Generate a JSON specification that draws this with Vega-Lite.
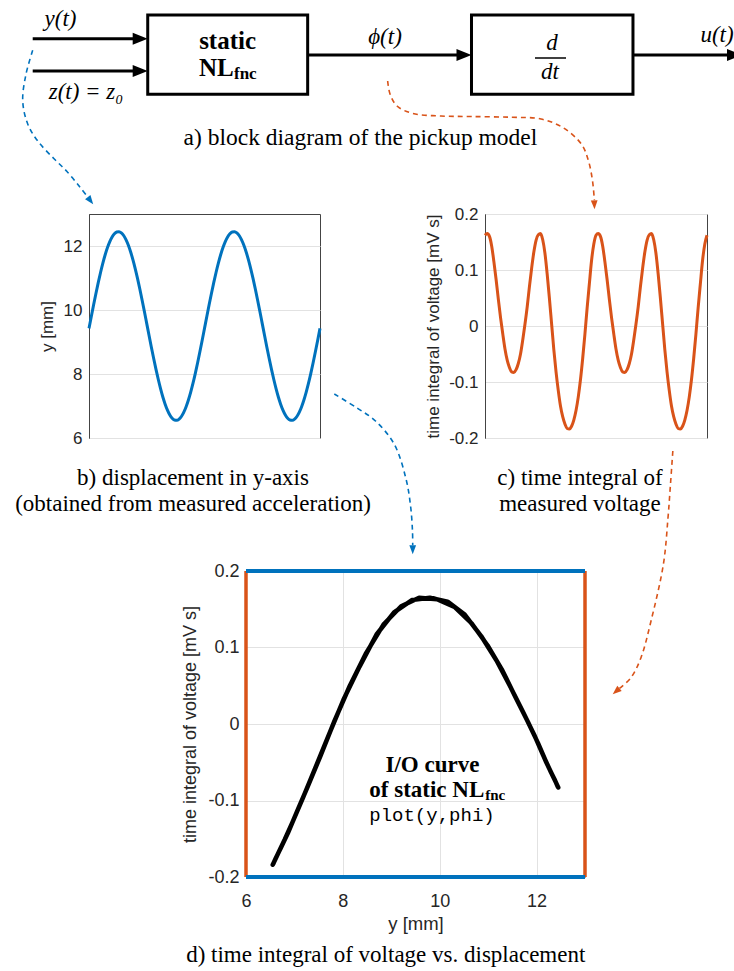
{
  "$schema": "https://vega.github.io/schema/vega-lite/v6.json",
  "padding": 0,
  "background": "white",
  "spacing": 133,
  "bounds": "flush",
  "config": {
    "view": {"stroke": "#444", "strokeWidth": 1},
    "axis": {
      "labelFont": "Liberation Sans", "titleFont": "Liberation Sans",
      "labelColor": "#262626", "titleColor": "#262626", "titleFontWeight": "normal",
      "domainColor": "#444", "gridColor": "#e2e2e2", "gridWidth": 1,
      "ticks": false, "labelPadding": 7
    },
    "title": {"font": "Liberation Serif", "fontSize": 23, "fontWeight": "normal", "color": "black"}
  },
  "datasets": {
    "ts": [
      {"t":0.00,"y":9.426,"phi":0.162},{"t":0.01,"y":9.796,"phi":0.165},{"t":0.02,"y":10.162,"phi":0.160},{"t":0.03,"y":10.517,"phi":0.143},
      {"t":0.04,"y":10.856,"phi":0.115},{"t":0.05,"y":11.173,"phi":0.083},{"t":0.06,"y":11.464,"phi":0.048},{"t":0.07,"y":11.726,"phi":0.015},
      {"t":0.08,"y":11.950,"phi":-0.014},{"t":0.09,"y":12.137,"phi":-0.041},{"t":0.10,"y":12.282,"phi":-0.061},{"t":0.11,"y":12.383,"phi":-0.074},
      {"t":0.12,"y":12.439,"phi":-0.082},{"t":0.13,"y":12.448,"phi":-0.083},{"t":0.14,"y":12.411,"phi":-0.078},{"t":0.15,"y":12.328,"phi":-0.067},
      {"t":0.16,"y":12.200,"phi":-0.050},{"t":0.17,"y":12.030,"phi":-0.025},{"t":0.18,"y":11.820,"phi":0.003},{"t":0.19,"y":11.573,"phi":0.034},
      {"t":0.20,"y":11.294,"phi":0.070},{"t":0.21,"y":10.986,"phi":0.103},{"t":0.22,"y":10.655,"phi":0.132},{"t":0.23,"y":10.305,"phi":0.153},
      {"t":0.24,"y":9.943,"phi":0.163},{"t":0.25,"y":9.574,"phi":0.165},{"t":0.26,"y":9.204,"phi":0.154},{"t":0.27,"y":8.838,"phi":0.130},
      {"t":0.28,"y":8.483,"phi":0.093},{"t":0.29,"y":8.144,"phi":0.050},{"t":0.30,"y":7.827,"phi":0.004},{"t":0.31,"y":7.536,"phi":-0.042},
      {"t":0.32,"y":7.274,"phi":-0.082},{"t":0.33,"y":7.050,"phi":-0.115},{"t":0.34,"y":6.863,"phi":-0.143},{"t":0.35,"y":6.718,"phi":-0.162},
      {"t":0.36,"y":6.617,"phi":-0.175},{"t":0.37,"y":6.561,"phi":-0.183},{"t":0.38,"y":6.552,"phi":-0.184},{"t":0.39,"y":6.589,"phi":-0.179},
      {"t":0.40,"y":6.672,"phi":-0.168},{"t":0.41,"y":6.800,"phi":-0.151},{"t":0.42,"y":6.970,"phi":-0.127},{"t":0.43,"y":7.180,"phi":-0.096},
      {"t":0.44,"y":7.427,"phi":-0.058},{"t":0.45,"y":7.706,"phi":-0.015},{"t":0.46,"y":8.014,"phi":0.032},{"t":0.47,"y":8.345,"phi":0.075},
      {"t":0.48,"y":8.695,"phi":0.117},{"t":0.49,"y":9.057,"phi":0.146},{"t":0.50,"y":9.426,"phi":0.162},
      {"t":0.51,"y":9.796,"phi":0.165},{"t":0.52,"y":10.162,"phi":0.160},{"t":0.53,"y":10.517,"phi":0.143},
      {"t":0.54,"y":10.856,"phi":0.115},{"t":0.55,"y":11.173,"phi":0.083},{"t":0.56,"y":11.464,"phi":0.048},{"t":0.57,"y":11.726,"phi":0.015},
      {"t":0.58,"y":11.950,"phi":-0.014},{"t":0.59,"y":12.137,"phi":-0.041},{"t":0.60,"y":12.282,"phi":-0.061},{"t":0.61,"y":12.383,"phi":-0.074},
      {"t":0.62,"y":12.439,"phi":-0.082},{"t":0.63,"y":12.448,"phi":-0.083},{"t":0.64,"y":12.411,"phi":-0.078},{"t":0.65,"y":12.328,"phi":-0.067},
      {"t":0.66,"y":12.200,"phi":-0.050},{"t":0.67,"y":12.030,"phi":-0.025},{"t":0.68,"y":11.820,"phi":0.003},{"t":0.69,"y":11.573,"phi":0.034},
      {"t":0.70,"y":11.294,"phi":0.070},{"t":0.71,"y":10.986,"phi":0.103},{"t":0.72,"y":10.655,"phi":0.132},{"t":0.73,"y":10.305,"phi":0.153},
      {"t":0.74,"y":9.943,"phi":0.163},{"t":0.75,"y":9.574,"phi":0.165},{"t":0.76,"y":9.204,"phi":0.154},{"t":0.77,"y":8.838,"phi":0.130},
      {"t":0.78,"y":8.483,"phi":0.093},{"t":0.79,"y":8.144,"phi":0.050},{"t":0.80,"y":7.827,"phi":0.004},{"t":0.81,"y":7.536,"phi":-0.042},
      {"t":0.82,"y":7.274,"phi":-0.082},{"t":0.83,"y":7.050,"phi":-0.115},{"t":0.84,"y":6.863,"phi":-0.143},{"t":0.85,"y":6.718,"phi":-0.162},
      {"t":0.86,"y":6.617,"phi":-0.175},{"t":0.87,"y":6.561,"phi":-0.183},{"t":0.88,"y":6.552,"phi":-0.184},{"t":0.89,"y":6.589,"phi":-0.179},
      {"t":0.90,"y":6.672,"phi":-0.168},{"t":0.91,"y":6.800,"phi":-0.151},{"t":0.92,"y":6.970,"phi":-0.127},{"t":0.93,"y":7.180,"phi":-0.096},
      {"t":0.94,"y":7.427,"phi":-0.058},{"t":0.95,"y":7.706,"phi":-0.015},{"t":0.96,"y":8.014,"phi":0.032},{"t":0.97,"y":8.345,"phi":0.075},
      {"t":0.98,"y":8.695,"phi":0.117},{"t":0.99,"y":9.057,"phi":0.146},{"t":1.00,"y":9.426,"phi":0.162}
    ]
  },
  "vconcat": [
    {
      "width": 734, "height": 80,
      "view": {"stroke": "white"},
      "encoding": {
        "x": {"field": "x", "type": "quantitative", "scale": {"domain": [0, 100], "nice": false, "zero": false}, "axis": null},
        "y": {"field": "y", "type": "quantitative", "scale": {"domain": [0, 10.9], "reverse": true, "nice": false, "zero": false}, "axis": null}
      },
      "layer": [
        {
          "data": {"values": [
            {"x": 4.32, "y": 6.72, "path": "b1", "i": 0}, {"x": 3.41, "y": 9.95, "path": "b1", "i": 1}, {"x": 2.96, "y": 13.62, "path": "b1", "i": 2},
            {"x": 3.64, "y": 16.76, "path": "b1", "i": 3}, {"x": 5.0, "y": 19.07, "path": "b1", "i": 4}, {"x": 7.26, "y": 21.53, "path": "b1", "i": 5},
            {"x": 8.99, "y": 23.23, "path": "b1", "i": 6}, {"x": 10.69, "y": 25.27, "path": "b1", "i": 7}, {"x": 11.83, "y": 26.72, "path": "b1", "i": 8},
            {"x": 45.41, "y": 53.54, "path": "b2", "i": 0}, {"x": 48.5, "y": 55.45, "path": "b2", "i": 1}, {"x": 51.02, "y": 57.22, "path": "b2", "i": 2},
            {"x": 53.58, "y": 60.4, "path": "b2", "i": 3}, {"x": 55.18, "y": 65.12, "path": "b2", "i": 4}, {"x": 55.8, "y": 68.8, "path": "b2", "i": 5},
            {"x": 56.06, "y": 72.21, "path": "b2", "i": 6}, {"x": 56.09, "y": 74.16, "path": "b2", "i": 7}
          ]},
          "mark": {"type": "line", "color": "#0072BD", "strokeWidth": 1.6, "strokeDash": [5, 4], "interpolate": "catmull-rom"},
          "encoding": {"detail": {"field": "path"}, "order": {"field": "i", "type": "quantitative"}}
        },
        {
          "data": {"values": [
            {"x": 52.68, "y": 10.9, "path": "o1", "i": 0}, {"x": 53.0, "y": 12.67, "path": "o1", "i": 1}, {"x": 53.95, "y": 14.31, "path": "o1", "i": 2},
            {"x": 56.13, "y": 15.33, "path": "o1", "i": 3}, {"x": 59.95, "y": 15.67, "path": "o1", "i": 4}, {"x": 64.03, "y": 15.74, "path": "o1", "i": 5},
            {"x": 69.48, "y": 15.84, "path": "o1", "i": 6}, {"x": 73.57, "y": 16.08, "path": "o1", "i": 7}, {"x": 76.57, "y": 17.26, "path": "o1", "i": 8},
            {"x": 79.09, "y": 19.52, "path": "o1", "i": 9}, {"x": 80.04, "y": 21.8, "path": "o1", "i": 10}, {"x": 80.59, "y": 24.52, "path": "o1", "i": 11},
            {"x": 80.84, "y": 27.15, "path": "o1", "i": 12},
            {"x": 91.53, "y": 61.31, "path": "o2", "i": 0}, {"x": 91.21, "y": 65.84, "path": "o2", "i": 1}, {"x": 90.87, "y": 70.44, "path": "o2", "i": 2},
            {"x": 90.25, "y": 76.7, "path": "o2", "i": 3}, {"x": 88.56, "y": 84.47, "path": "o2", "i": 4}, {"x": 87.19, "y": 89.47, "path": "o2", "i": 5},
            {"x": 85.83, "y": 92.19, "path": "o2", "i": 6}, {"x": 84.26, "y": 93.65, "path": "o2", "i": 7}
          ]},
          "mark": {"type": "line", "color": "#D95319", "strokeWidth": 1.6, "strokeDash": [5, 4], "interpolate": "catmull-rom"},
          "encoding": {"detail": {"field": "path"}, "order": {"field": "i", "type": "quantitative"}}
        },
        {
          "data": {"values": [{"x": 12.19, "y": 27.21, "dir": 53}, {"x": 56.09, "y": 74.77, "dir": 90}]},
          "mark": {"type": "point", "shape": "M1,0L-1,-0.75L-1,0.75Z", "size": 81, "filled": true, "color": "#0072BD", "opacity": 1, "strokeWidth": 0},
          "encoding": {"angle": {"field": "dir", "type": "quantitative", "scale": null}}
        },
        {
          "data": {"values": [{"x": 80.84, "y": 27.77, "dir": 88}, {"x": 83.8, "y": 94.06, "dir": 139}]},
          "mark": {"type": "point", "shape": "M1,0L-1,-0.75L-1,0.75Z", "size": 81, "filled": true, "color": "#D95319", "opacity": 1, "strokeWidth": 0},
          "encoding": {"angle": {"field": "dir", "type": "quantitative", "scale": null}}
        },
        {
          "data": {"values": [
            {"block": "static NL", "x": 19.99, "x2": 41.78, "y": 1.91, "y2": 12.71},
            {"block": "d/dt", "x": 64.1, "x2": 86.1, "y": 1.91, "y2": 12.71}
          ]},
          "mark": {"type": "rect", "filled": false, "color": "black", "strokeWidth": 3},
          "encoding": {"x2": {"field": "x2"}, "y2": {"field": "y2"}}
        },
        {
          "data": {"values": [
            {"signal": "y(t)", "x": 4.32, "x2": 18.2, "y": 5.14},
            {"signal": "z(t)", "x": 4.32, "x2": 18.2, "y": 9.54},
            {"signal": "phi(t)", "x": 41.78, "x2": 62.4, "y": 7.36},
            {"signal": "u(t)", "x": 86.1, "x2": 99.2, "y": 7.36}
          ]},
          "mark": {"type": "rule", "color": "black", "strokeWidth": 3},
          "encoding": {"x2": {"field": "x2"}}
        },
        {
          "data": {"values": [
            {"signal": "y(t)", "x": 18.96, "y": 5.14}, {"signal": "z(t)", "x": 18.96, "y": 9.54},
            {"signal": "phi(t)", "x": 63.08, "y": 7.36}, {"signal": "u(t)", "x": 99.93, "y": 7.36}
          ]},
          "mark": {"type": "point", "shape": "M1,0L-1,-0.8L-1,0.8Z", "size": 225, "filled": true, "color": "black", "opacity": 1, "strokeWidth": 0}
        },
        {
          "data": {"values": [{"part": "fraction bar", "x": 72.75, "x2": 76.98, "y": 7.77}]},
          "mark": {"type": "rule", "color": "black", "strokeWidth": 1.5},
          "encoding": {"x2": {"field": "x2"}}
        },
        {
          "data": {"values": [
            {"label": "y(t)", "x": 8.11, "y": 2.49},
            {"label": "z(t) = z₀", "x": 11.58, "y": 12.4},
            {"label": "ϕ(t)", "x": 52.32, "y": 4.88},
            {"label": "u(t)", "x": 97.55, "y": 4.63},
            {"label": "d", "x": 75.07, "y": 5.72},
            {"label": "dt", "x": 74.8, "y": 9.74}
          ]},
          "mark": {"type": "text", "font": "Liberation Serif", "fontStyle": "italic", "fontSize": 23, "baseline": "middle", "align": "center", "color": "black"},
          "encoding": {"text": {"field": "label"}}
        },
        {
          "data": {"values": [{"label": "static", "x": 30.87, "y": 6.54}]},
          "mark": {"type": "text", "font": "Liberation Serif", "fontWeight": "bold", "fontSize": 25, "baseline": "alphabetic", "align": "center", "color": "black"},
          "encoding": {"text": {"field": "label"}}
        },
        {
          "data": {"values": [{"label": "NL", "x": 31.7, "y": 10.22}]},
          "mark": {"type": "text", "font": "Liberation Serif", "fontWeight": "bold", "fontSize": 25, "baseline": "alphabetic", "align": "right", "color": "black"},
          "encoding": {"text": {"field": "label"}}
        },
        {
          "data": {"values": [{"label": "fnc", "x": 31.74, "y": 10.69}]},
          "mark": {"type": "text", "font": "Liberation Serif", "fontWeight": "bold", "fontSize": 17, "baseline": "alphabetic", "align": "left", "color": "black"},
          "encoding": {"text": {"field": "label"}}
        },
        {
          "data": {"values": [{"label": "a) block diagram of the pickup model", "x": 48.97, "y": 18.66}]},
          "mark": {"type": "text", "font": "Liberation Serif", "fontSize": 23.5, "baseline": "middle", "align": "center", "color": "black"},
          "encoding": {"text": {"field": "label"}}
        }
      ]
    },
    {
      "hconcat": [
        {"width": 88, "height": 224, "view": {"stroke": null}, "data": {"values": []}, "mark": "point"},
        {
          "width": 231, "height": 224,
          "data": {"name": "ts"},
          "title": {"text": ["b) displacement in y-axis", "(obtained from measured acceleration)"], "orient": "bottom", "frame": "group", "anchor": "middle", "offset": 21, "dx": -11.5, "lineHeight": 26, "font": "Liberation Serif", "fontSize": 23},
          "mark": {"type": "line", "color": "#0072BD", "strokeWidth": 3, "interpolate": "monotone"},
          "encoding": {
            "x": {"field": "t", "type": "quantitative", "scale": {"domain": [0, 1], "nice": false, "zero": false}, "axis": null},
            "y": {"field": "y", "type": "quantitative", "scale": {"domain": [6, 13], "nice": false, "zero": false},
                  "axis": {"title": "y [mm]", "values": [6, 8, 10, 12], "labelFontSize": 17, "titleFontSize": 17, "titlePadding": 7, "grid": true}}
          }
        },
        {"width": 165, "height": 224, "view": {"stroke": null}, "data": {"values": []}, "mark": "point"},
        {
          "width": 222, "height": 224,
          "data": {"name": "ts"},
          "title": {"text": ["c) time integral of", "measured voltage"], "orient": "bottom", "frame": "group", "anchor": "middle", "offset": 21, "dx": -16, "lineHeight": 26, "font": "Liberation Serif", "fontSize": 23},
          "mark": {"type": "line", "color": "#D95319", "strokeWidth": 3, "interpolate": "monotone"},
          "encoding": {
            "x": {"field": "t", "type": "quantitative", "scale": {"domain": [0, 1], "nice": false, "zero": false}, "axis": null},
            "y": {"field": "phi", "type": "quantitative", "scale": {"domain": [-0.2, 0.2], "nice": false, "zero": false},
                  "axis": {"title": "time integral of voltage [mV s]", "values": [-0.2, -0.1, 0, 0.1, 0.2], "format": ".1~f",
                           "labelExpr": "replace(datum.label, '\u2212', '-')",
                           "labelFontSize": 17, "titleFontSize": 17, "titlePadding": 6, "grid": true}}
          }
        }
      ],
      "spacing": 0,
      "bounds": "flush"
    },
    {"width": 10, "height": 91, "view": {"stroke": null}, "data": {"values": []}, "mark": "point"},
    {
      "hconcat": [
        {"width": 245, "height": 306, "view": {"stroke": null}, "data": {"values": []}, "mark": "point"},
        {
          "width": 339, "height": 306,
          "title": {"text": "d) time integral of voltage vs. displacement", "orient": "bottom", "frame": "group", "anchor": "middle", "offset": 11, "dx": -29.75, "font": "Liberation Serif", "fontSize": 23},
          "layer": [
            {
              "data": {"name": "ts"},
              "mark": {"type": "line", "color": "black", "strokeWidth": 4.5, "interpolate": "linear", "strokeJoin": "round", "strokeCap": "round"},
              "encoding": {
                "x": {"field": "y", "type": "quantitative", "scale": {"domain": [6, 13], "nice": false, "zero": false},
                      "axis": {"title": "y [mm]", "values": [6, 8, 10, 12], "grid": true, "domain": false, "labelFlush": false,
                               "labelFontSize": 18, "titleFontSize": 18.5, "labelPadding": 15, "titlePadding": 4}},
                "y": {"field": "phi", "type": "quantitative", "scale": {"domain": [-0.2, 0.2], "nice": false, "zero": false},
                      "axis": {"title": "time integral of voltage [mV s]", "values": [-0.2, -0.1, 0, 0.1, 0.2], "format": ".1~f",
                               "labelExpr": "replace(datum.label, '\u2212', '-')", "grid": true, "domain": false,
                               "labelFontSize": 18, "titleFontSize": 18, "titlePadding": 8}},
                "order": {"field": "t", "type": "quantitative"}
              }
            },
            {
              "data": {"values": [{"y": 6}, {"y": 13}]},
              "mark": {"type": "rule", "color": "#D95319", "strokeWidth": 3.5},
              "encoding": {"x": {"field": "y", "type": "quantitative"}, "y": {"datum": -0.2}, "y2": {"datum": 0.2}}
            },
            {
              "data": {"values": [{"phi": -0.2}, {"phi": 0.2}]},
              "mark": {"type": "rule", "color": "#0072BD", "strokeWidth": 4},
              "encoding": {"y": {"field": "phi", "type": "quantitative"}, "x": {"datum": 6}, "x2": {"datum": 13}}
            },
            {
              "data": {"values": [{"label": "I/O curve", "y": 9.85, "phi": -0.053}]},
              "mark": {"type": "text", "font": "Liberation Serif", "fontWeight": "bold", "fontSize": 23, "baseline": "middle", "align": "center", "color": "black"},
              "encoding": {"x": {"field": "y", "type": "quantitative"}, "y": {"field": "phi", "type": "quantitative"}, "text": {"field": "label"}}
            },
            {
              "data": {"values": [{"label": "of static NL", "y": 10.92, "phi": -0.095}]},
              "mark": {"type": "text", "font": "Liberation Serif", "fontWeight": "bold", "fontSize": 23, "baseline": "alphabetic", "align": "right", "color": "black"},
              "encoding": {"x": {"field": "y", "type": "quantitative"}, "y": {"field": "phi", "type": "quantitative"}, "text": {"field": "label"}}
            },
            {
              "data": {"values": [{"label": "fnc", "y": 10.94, "phi": -0.099}]},
              "mark": {"type": "text", "font": "Liberation Serif", "fontWeight": "bold", "fontSize": 15, "baseline": "alphabetic", "align": "left", "color": "black"},
              "encoding": {"x": {"field": "y", "type": "quantitative"}, "y": {"field": "phi", "type": "quantitative"}, "text": {"field": "label"}}
            },
            {
              "data": {"values": [{"label": "plot(y,phi)", "y": 9.84, "phi": -0.119}]},
              "mark": {"type": "text", "font": "Liberation Mono", "fontSize": 19, "baseline": "middle", "align": "center", "color": "black"},
              "encoding": {"x": {"field": "y", "type": "quantitative"}, "y": {"field": "phi", "type": "quantitative"}, "text": {"field": "label"}}
            }
          ]
        }
      ],
      "spacing": 0,
      "bounds": "flush"
    }
  ]
}
